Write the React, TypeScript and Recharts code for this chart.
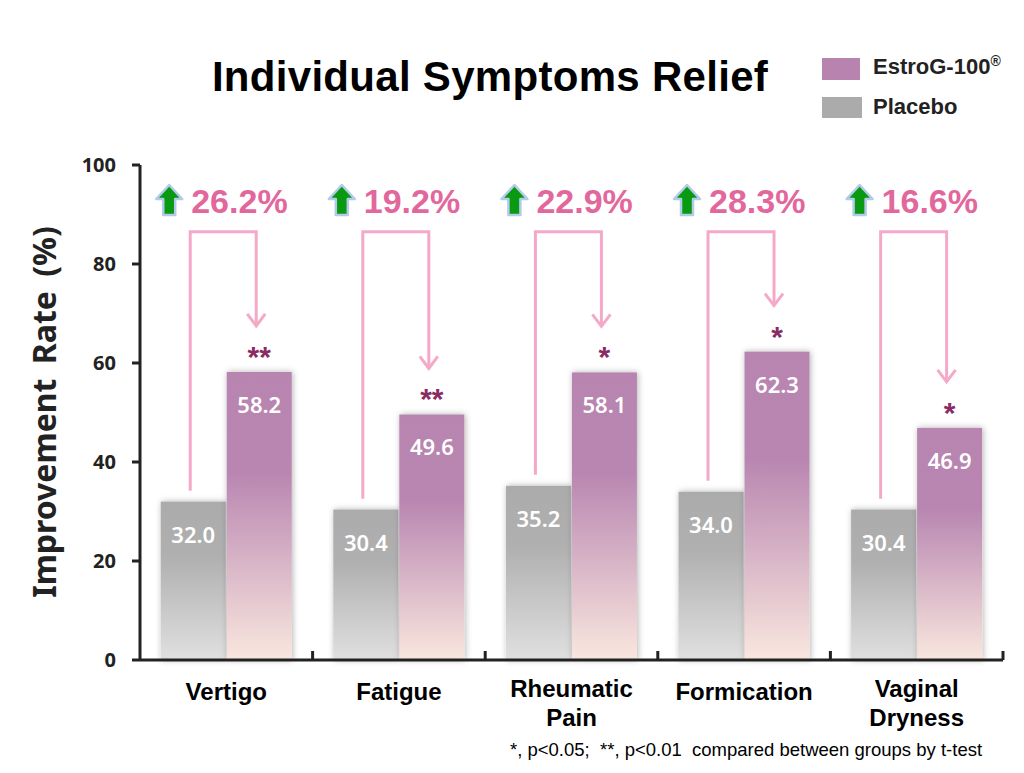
import React from 'react';
import { BarChart, Bar, XAxis, YAxis, LabelList } from 'recharts';

const categories = ['Vertigo', 'Fatigue', 'Rheumatic Pain', 'Formication', 'Vaginal Dryness'];
const categoryLines = [['Vertigo'], ['Fatigue'], ['Rheumatic', 'Pain'], ['Formication'], ['Vaginal', 'Dryness']];
const placebo = [32.0, 30.4, 35.2, 34.0, 30.4];
const estrog = [58.2, 49.6, 58.1, 62.3, 46.9];
const increase = ['26.2%', '19.2%', '22.9%', '28.3%', '16.6%'];
const significance = ['**', '**', '*', '*', '*'];
const yTicks = [0, 20, 40, 60, 80, 100];

// bracket levels, in axis units
const bracketTop = 86.5;
const percentLevel = 90.3;

const W = 1024;
const H = 773;
const margin = { top: 165, right: 21, bottom: 33, left: 60 };
const yAxisWidth = 80;
const plotWidth = W - margin.left - margin.right - yAxisWidth;
const bandWidth = plotWidth / categories.length;

const data = categories.map((name, i) => ({
    name,
    idx: i,
    placebo: placebo[i],
    estrog: estrog[i],
}));

const ARIAL = '"Liberation Sans", Arial, Helvetica, sans-serif';
const NOTO = '"Noto Sans", "Open Sans", sans-serif';
const PINK_TEXT = '#e2679c';
const PINK_LINE = '#f5a9c9';
const BAR_GAP = 1;

const ShadowRect = (fill: string) => (props: any) => {
    const { x, y, width, height } = props;
    if (!height || height <= 0) return <g />;
    return <rect x={x} y={y} width={width} height={height} fill={fill} filter="url(#barShadow)" />;
};

const ValueLabel = (props: any) => {
    const { x, y, width, value } = props;
    return (
        <text
            x={x + width / 2}
            y={y + 32}
            textAnchor="middle"
            dominantBaseline="central"
            fill="#fff"
            fontFamily={NOTO}
            fontWeight={600}
            fontSize={22}
        >
            {Number(value).toFixed(1)}
        </text>
    );
};

const Annotation = (props: any) => {
    const { x, y, width, height, index } = props;
    const bottom = y + height;
    const k = height / estrog[index];
    const toY = (v: number) => bottom - v * k;
    const pcx = x - BAR_GAP - width / 2 - 3;
    const ecx = x + width / 2 - 3;
    const top = toY(bracketTop);
    const legBottom = toY(placebo[index] + 2.2);
    const tip = toY(estrog[index] + 9.3);
    const groupCenter = x - BAR_GAP / 2;
    const base = toY(percentLevel);
    const ax = groupCenter - 57;
    const aTop = base - 28;
    const aBot = base + 2;
    const arrow = `M${ax},${aTop} L${ax + 13},${aTop + 14} L${ax + 6},${aTop + 14} L${ax + 6},${aBot} L${ax - 6},${aBot} L${ax - 6},${aTop + 14} L${ax - 13},${aTop + 14} Z`;
    return (
        <g>
            <path
                d={`M${pcx},${legBottom} L${pcx},${top} L${ecx},${top} L${ecx},${tip}`}
                fill="none"
                stroke={PINK_LINE}
                strokeWidth={3}
            />
            <path
                d={`M${ecx - 9},${tip - 12} L${ecx},${tip} L${ecx + 9},${tip - 12}`}
                fill="none"
                stroke={PINK_LINE}
                strokeWidth={3}
            />
            <path d={arrow} fill="#0a9a12" stroke="#b3cbeb" strokeWidth={2.5} strokeLinejoin="round" />
            <text
                x={groupCenter - 35}
                y={base}
                fill={PINK_TEXT}
                fontFamily={ARIAL}
                fontWeight="bold"
                fontSize={34}
            >
                {increase[index]}
            </text>
            <text
                x={x + width / 2}
                y={y - 5}
                textAnchor="middle"
                fill="#8a2b63"
                fontFamily={ARIAL}
                fontWeight="bold"
                fontSize={30}
            >
                {significance[index]}
            </text>
        </g>
    );
};

const XTick = (props: any) => {
    const { x, y, payload } = props;
    const i = payload.index;
    const lines = categoryLines[i];
    const first = lines.length > 1 ? 37 : 40;
    const edge = x + bandWidth / 2;
    return (
        <g>
            <line x1={edge} x2={edge} y1={y - 9} y2={y} stroke="#222" strokeWidth={3} />
            {lines.map((t, j) => (
                <text
                    key={t}
                    x={x}
                    y={y + first + j * 29}
                    textAnchor="middle"
                    fill="#000"
                    fontFamily={ARIAL}
                    fontWeight="bold"
                    fontSize={24}
                >
                    {t}
                </text>
            ))}
        </g>
    );
};

export default function App() {
    return (
        <div style={{ position: 'fixed', left: 0, top: 0, width: W, height: H, background: '#fff' }}>
            <BarChart
                width={W}
                height={H}
                data={data}
                margin={margin}
                barCategoryGap="12%"
                barGap={BAR_GAP}
            >
                <defs>
                    <linearGradient id="gradEstrog" x1="0" y1="0" x2="0" y2="1">
                        <stop offset="0%" stopColor="#b884b0" />
                        <stop offset="35%" stopColor="#b986b1" />
                        <stop offset="100%" stopColor="#f9e7de" />
                    </linearGradient>
                    <linearGradient id="gradPlacebo" x1="0" y1="0" x2="0" y2="1">
                        <stop offset="0%" stopColor="#ababab" />
                        <stop offset="35%" stopColor="#b0b0b0" />
                        <stop offset="100%" stopColor="#e0e0e0" />
                    </linearGradient>
                    <filter id="barShadow" x="-20%" y="-10%" width="140%" height="120%">
                        <feDropShadow dx="1" dy="0" stdDeviation="3" floodColor="#000" floodOpacity="0.3" />
                    </filter>
                </defs>
                <XAxis
                    dataKey="name"
                    type="category"
                    height={80}
                    axisLine={{ stroke: '#222', strokeWidth: 3 }}
                    tickLine={false}
                    tickSize={0}
                    tickMargin={0}
                    interval={0}
                    tick={<XTick />}
                />
                <YAxis
                    width={yAxisWidth}
                    domain={[0, 100]}
                    ticks={yTicks}
                    interval={0}
                    axisLine={{ stroke: '#222', strokeWidth: 3 }}
                    tickLine={{ stroke: '#222', strokeWidth: 3 }}
                    tickSize={8}
                    tickMargin={16}
                    tick={{ fill: '#222', fontFamily: NOTO, fontWeight: 'bold', fontSize: 20 }}
                />
                <Bar dataKey="placebo" isAnimationActive={false} shape={ShadowRect('url(#gradPlacebo)')}>
                    <LabelList dataKey="placebo" content={<ValueLabel />} />
                </Bar>
                <Bar dataKey="estrog" isAnimationActive={false} shape={ShadowRect('url(#gradEstrog)')}>
                    <LabelList dataKey="estrog" content={<ValueLabel />} />
                    <LabelList dataKey="estrog" content={<Annotation />} />
                </Bar>
            </BarChart>
            <svg
                width={W}
                height={H}
                style={{ position: 'absolute', left: 0, top: 0, pointerEvents: 'none' }}
            >
                <text
                    x={490}
                    y={91}
                    textAnchor="middle"
                    fontFamily={ARIAL}
                    fontWeight="bold"
                    fontSize={42}
                    letterSpacing={0.3}
                    fill="#000"
                >
                    Individual Symptoms Relief
                </text>
                <rect x={822} y={58} width={38} height={22} fill="#b983b0" />
                <text x={873} y={74} fontFamily={ARIAL} fontWeight="bold" fontSize={22} fill="#222">
                    EstroG-100
                    <tspan fontSize={14} dy={-8}>®</tspan>
                </text>
                <rect x={822} y={97} width={40} height={21} fill="#ababab" />
                <text x={873} y={114} fontFamily={ARIAL} fontWeight="bold" fontSize={22} fill="#222">
                    Placebo
                </text>
                <text
                    transform="translate(56, 412) rotate(-90)"
                    textAnchor="middle"
                    fontFamily={NOTO}
                    fontWeight="bold"
                    fontSize={32}
                    wordSpacing={6}
                    fill="#222"
                >
                    Improvement Rate (%)
                </text>
                <text x={510} y={756} fontFamily={ARIAL} fontSize={18.5} fill="#000">
                    *, p&lt;0.05;{'\u00a0\u00a0'}**, p&lt;0.01{'\u00a0\u00a0'}compared between groups by t-test
                </text>
            </svg>
        </div>
    );
}
